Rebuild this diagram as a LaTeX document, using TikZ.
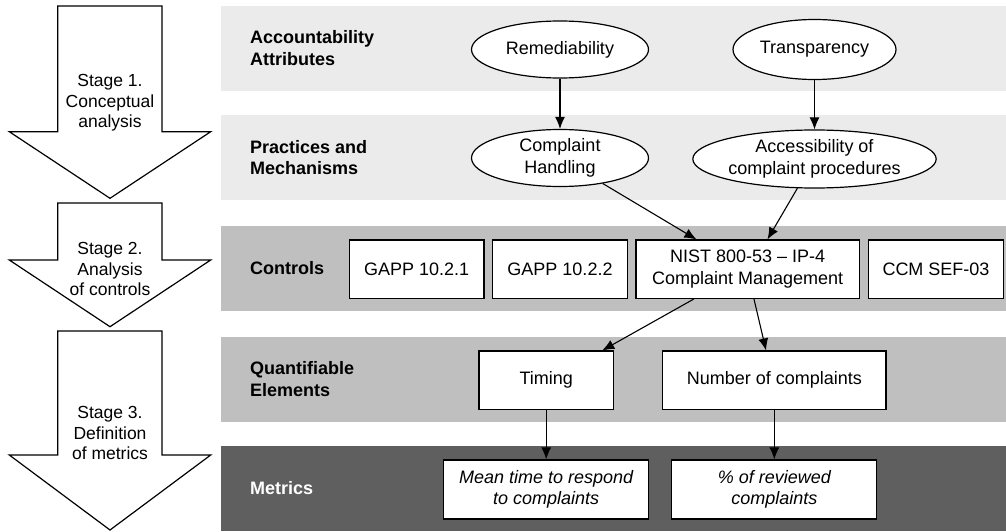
\documentclass[tikz,border=0pt]{standalone}
\usepackage{fontspec}
\setmainfont{Liberation Sans}
\usetikzlibrary{shapes.geometric,arrows.meta,calc}
\definecolor{bandlight}{HTML}{EBEBEB}
\definecolor{bandmid}{HTML}{BFBFBF}
\definecolor{banddark}{HTML}{5F5F5F}
\tikzset{
  band/.style={draw=none},
  bandlabel/.style={anchor=west,align=left,font=\fontsize{18}{21.5}\selectfont\bfseries,inner sep=0pt},
  oval/.style={ellipse,draw=black,fill=white,line width=1.2pt,inner sep=0pt,align=center,font=\fontsize{18}{21.5}\selectfont},
  box/.style={rectangle,draw=black,fill=white,line width=1.2pt,inner sep=0pt,align=center,font=\fontsize{18}{21.5}\selectfont},
  metricbox/.style={box,font=\fontsize{18}{21.5}\selectfont\itshape},
  conn/.style={line width=1.1pt,-{Latex[length=12pt,width=10pt]}},
  stagearrow/.style={draw=black,fill=white,line width=1.2pt,line join=miter},
  stagetext/.style={align=center,font=\fontsize{17.5}{20.5}\selectfont,inner sep=0pt}
}
\begin{document}
\begin{tikzpicture}[x=1pt,y=-1pt]
\useasboundingbox (0,0) rectangle (1006,532);
% bands
\fill[bandlight] (220.7,6) rectangle (1006,90.7);
\fill[bandlight] (220.7,115) rectangle (1006,200);
\fill[bandmid] (220.7,225.7) rectangle (1006,310.7);
\fill[bandmid] (220.7,336.7) rectangle (1006,421.7);
\fill[banddark] (220.7,446) rectangle (1006,531);
% band labels
\node[bandlabel] (l1) at (250,48.3) {Accountability\\Attributes};
\node[bandlabel] (l2) at (250,157.5) {Practices and\\Mechanisms};
\node[bandlabel] (l3) at (250,268.2) {Controls};
\node[bandlabel] (l4) at (250,379.2) {Quantifiable\\Elements};
\node[bandlabel,text=white] (l5) at (250,488.5) {Metrics};
% stage arrows
\draw[stagearrow] (57.7,6) -- (162,6) -- (162,131.7) -- (210.7,131.7) -- (110,198.3) -- (9.3,131.7) -- (57.7,131.7) -- cycle;
\draw[stagearrow] (57.7,203) -- (162,203) -- (162,260) -- (210.7,260) -- (110,326.7) -- (9.3,260) -- (57.7,260) -- cycle;
\draw[stagearrow] (57.7,331) -- (162,331) -- (162,455) -- (210.7,455) -- (110,530) -- (9.3,455) -- (57.7,455) -- cycle;
\node[stagetext] (s1) at (110,103) {Stage 1.\\Conceptual\\analysis};
\node[stagetext] (s2) at (110,269) {Stage 2.\\Analysis\\of controls};
\node[stagetext] (s3) at (110,433) {Stage 3.\\Definition\\of metrics};
% ellipses
\node[oval,minimum width=177pt,minimum height=57pt] (rem) at (560,49.5) {Remediability};
\node[oval,minimum width=163pt,minimum height=60pt] (tra) at (814.5,49.5) {Transparency};
\node[oval,minimum width=177pt,minimum height=57pt] (ch) at (560,158) {Complaint\\Handling};
\node[oval,minimum width=224pt,minimum height=58pt] (acc) at (814.5,159) {Accessibility of\\complaint procedures};
% controls
\node[box,minimum width=134.7pt,minimum height=58.3pt] (g1) at (416.7,269.2) {GAPP 10.2.1};
\node[box,minimum width=134.7pt,minimum height=58.3pt] (g2) at (560,269.2) {GAPP 10.2.2};
\node[box,minimum width=223.3pt,minimum height=58.3pt] (nist) at (747.7,269.2) {NIST 800-53 – IP-4\\Complaint Management};
\node[box,minimum width=134.7pt,minimum height=58.3pt] (ccm) at (936,269.2) {CCM SEF-03};
% quantifiable
\node[box,minimum width=134.3pt,minimum height=58.3pt] (tim) at (546.2,380.2) {Timing};
\node[box,minimum width=223.3pt,minimum height=58.3pt] (num) at (774.3,380.2) {Number of complaints};
% metrics
\node[metricbox,minimum width=205pt,minimum height=59pt] (mean) at (546.2,489.5) {Mean time to respond\\to complaints};
\node[metricbox,minimum width=205pt,minimum height=59pt] (pct) at (774.3,489.5) {\% of reviewed\\complaints};
% connectors
\draw[conn] (rem.south) -- (ch.north);
\draw[conn] (tra.south) -- (acc.north);
\draw[conn] (ch) -- ($(nist.north west)+(61,0)$);
\draw[conn] (acc) -- ($(nist.north west)+(132,0)$);
\draw[conn] ($(nist.south west)+(58.5,0)$) -- ($(tim.north east)+(-11.7,0)$);
\draw[conn] ($(nist.south west)+(118.5,0)$) -- ($(num.north west)+(104,0)$);
\draw[conn] (tim.south) -- (mean.north);
\draw[conn] (num.south) -- (pct.north);
\end{tikzpicture}
\end{document}
